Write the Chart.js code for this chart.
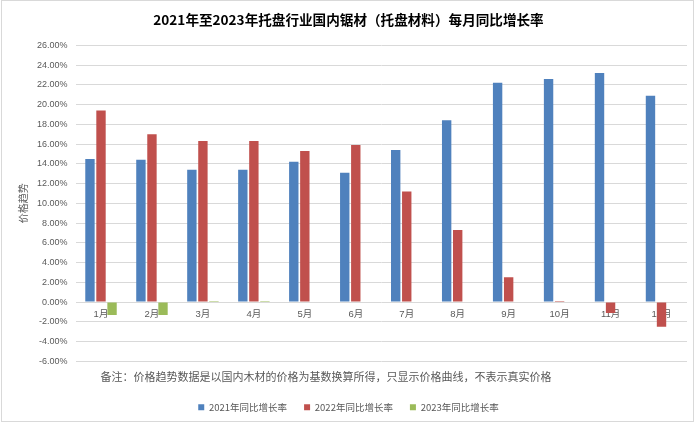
<!DOCTYPE html>
<html>
<head>
<meta charset="utf-8">
<script src="https://cdn.jsdelivr.net/npm/chart.js@4"></script>
<style>
    html, body { margin: 0; padding: 0; background: #fff; }
    #wrap { width: 700px; height: 423px; position: relative; }
</style>
</head>
<body>
<div id="wrap"><canvas id="growthChart"></canvas></div>
<script>
// values (percent)
const months = ['1月', '2月', '3月', '4月', '5月', '6月', '7月', '8月', '9月', '10月', '11月', '12月'];
const rate2021 = [14.5, 14.4, 13.4, 13.4, 14.2, 13.1, 15.4, 18.4, 22.2, 22.6, 23.2, 20.9];
const rate2022 = [19.4, 17.0, 16.3, 16.3, 15.3, 15.9, 11.2, 7.3, 2.5, 0.1, -1.1, -2.5];
const rate2023 = [-1.3, -1.3, 0.1, 0.1];
const seriesNames = ['2021年同比增长率', '2022年同比增长率', '2023年同比增长率'];
const chartTitle = '2021年至2023年托盘行业国内锯材（托盘材料）每月同比增长率';
const yAxisTitle = '价格趋势';
const noteText = '备注：价格趋势数据是以国内木材的价格为基数换算所得，只显示价格曲线，不表示真实价格';

const FONT = '"Noto Sans CJK SC", "Noto Sans", sans-serif';
const NUM_FONT = '"Liberation Sans", "Noto Sans CJK SC", sans-serif';
const GREY = '#595959';

// outer frame + the note line under the plot
const framePlugin = {
    id: 'frameAndNote',
    afterDraw(chart) {
        const ctx = chart.ctx;
        const area = chart.chartArea;
        ctx.save();
        ctx.strokeStyle = '#d9d9d9';
        ctx.lineWidth = 1;
        ctx.strokeRect(1.5, 0.5, 692, 421);
        ctx.fillStyle = GREY;
        ctx.font = '11px ' + FONT;
        ctx.textBaseline = 'middle';
        ctx.fillText(noteText, area.left + 25, area.bottom + 16);
        ctx.restore();
    }
};

const ctx = document.getElementById('growthChart');

new Chart(ctx, {
    type: 'bar',
    data: {
        labels: months,
        datasets: [{
            label: seriesNames[0],
            data: rate2021,
            backgroundColor: '#4F81BD'
        }, {
            label: seriesNames[1],
            data: rate2022,
            backgroundColor: '#C0504D'
        }, {
            label: seriesNames[2],
            data: rate2023,
            backgroundColor: '#9BBB59'
        }]
    },
    options: {
        responsive: true,
        maintainAspectRatio: false,
        animation: false,
        categoryPercentage: 0.65,
        barPercentage: 0.85,
        layout: {
            padding: { left: 10, right: 13, top: 0, bottom: 1 }
        },
        plugins: {
            title: {
                display: true,
                text: chartTitle,
                color: '#000',
                font: { family: FONT, size: 13.6, weight: 'bold' },
                padding: { top: 12, bottom: 17 }
            },
            legend: {
                position: 'bottom',
                // empty title only keeps room for the note line
                title: {
                    display: true,
                    text: '',
                    font: { family: FONT, size: 11 },
                    padding: { top: 0, bottom: 11 }
                },
                labels: {
                    color: GREY,
                    font: { family: FONT, size: 9.5 },
                    boxWidth: 6,
                    boxHeight: 6,
                    padding: 17
                }
            },
            tooltip: { enabled: false }
        },
        scales: {
            x: {
                position: { y: 0 },
                grid: { display: false, drawTicks: false },
                border: { display: false },
                ticks: {
                    color: GREY,
                    font: { family: NUM_FONT, size: 9.5 },
                    padding: 7,
                    maxRotation: 0
                }
            },
            y: {
                min: -6,
                max: 26,
                grid: { color: '#d9d9d9', drawTicks: false },
                border: { display: false },
                ticks: {
                    stepSize: 2,
                    color: GREY,
                    font: { family: NUM_FONT, size: 9 },
                    padding: 8,
                    callback: function(value) {
                        return value.toFixed(2) + '%';
                    }
                },
                title: {
                    display: true,
                    text: yAxisTitle,
                    color: GREY,
                    font: { family: FONT, size: 10 },
                    padding: { top: 7, bottom: 0 }
                }
            }
        }
    },
    plugins: [framePlugin]
});
</script>
</body>
</html>
